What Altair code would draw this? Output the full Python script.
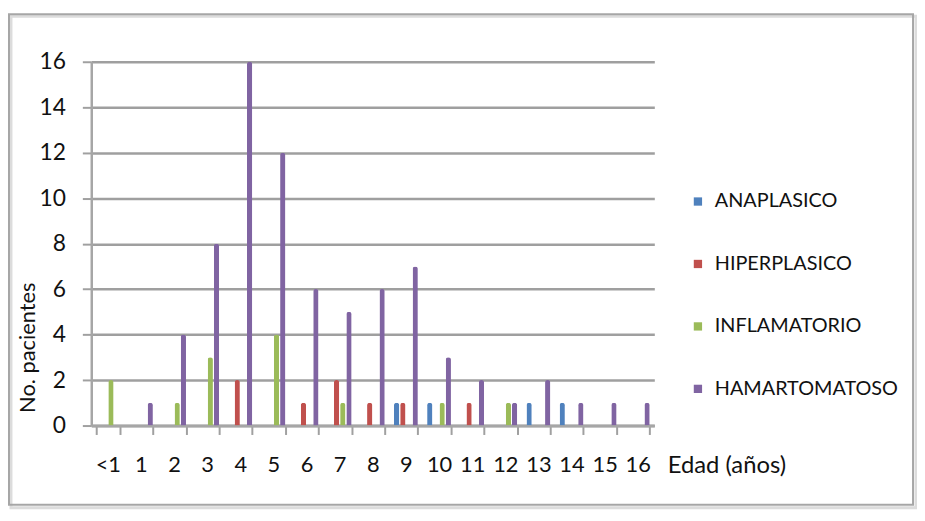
import altair as alt
import pandas as pd

categories = ["<1", "1", "2", "3", "4", "5", "6", "7", "8", "9", "10", "11", "12", "13", "14", "15", "16"]
series = ["ANAPLASICO", "HIPERPLASICO", "INFLAMATORIO", "HAMARTOMATOSO"]
colors = ["#4F81BD", "#C0504D", "#9BBB59", "#8064A2"]
anaplasico = [0, 0, 0, 0, 0, 0, 0, 0, 0, 1, 1, 0, 0, 1, 1, 0, 0]
hiperplasico = [0, 0, 0, 0, 2, 0, 1, 2, 1, 1, 0, 1, 0, 0, 0, 0, 0]
inflamatorio = [2, 0, 1, 3, 0, 4, 0, 1, 0, 0, 1, 0, 1, 0, 0, 0, 0]
hamartomatoso = [0, 1, 4, 8, 16, 12, 6, 5, 6, 7, 3, 2, 1, 2, 1, 1, 1]

rows = []
for name, vals in zip(series, [anaplasico, hiperplasico, inflamatorio, hamartomatoso]):
    for c, v in zip(categories, vals):
        if v > 0:
            rows.append({"edad": c, "tipo": name, "n": v})
df = pd.DataFrame(rows)

FONT = "Lato"
TXT = "#111111"
W, H = 568, 367

bars = alt.Chart(df).mark_bar(
    cornerRadiusTopLeft=2.5, cornerRadiusTopRight=2.5
).encode(
    x=alt.X("edad:N", sort=categories,
            scale=alt.Scale(domain=categories, paddingInner=0.28, paddingOuter=0.14),
            axis=alt.Axis(title="Edad (años)", labelAngle=0, labelFontSize=22,
                          labelFont=FONT, labelColor=TXT, labelPadding=20,
                          tickBand="extent", tickSize=9, tickColor="#a0a0a0", tickWidth=2,
                          domainColor="#a6a6a6", domainWidth=3, grid=False,
                          titleFont=FONT, titleFontSize=24, titleFontWeight="normal",
                          titleColor=TXT, titleX=581, titleY=40, titleAlign="left",
                          titleBaseline="middle")),
    xOffset=alt.XOffset("tipo:N", sort=series,
                        scale=alt.Scale(domain=series, paddingInner=0.15)),
    y=alt.Y("n:Q", scale=alt.Scale(domain=[0, 16], nice=False),
            axis=alt.Axis(title="No. pacientes", values=list(range(0, 17, 2)),
                          labelFontSize=23, labelFont=FONT, labelColor=TXT,
                          labelPadding=17, tickSize=9, tickColor="#a0a0a0", tickWidth=2,
                          domainColor="#a6a6a6", domainWidth=2.5,
                          gridColor="#9f9f9f", gridWidth=2.5,
                          titleFont=FONT, titleFontSize=22, titleFontWeight="normal",
                          titleColor=TXT, titleX=-64, titleY=288, titleAngle=-90,
                          titleAlign="center", titleBaseline="middle")),
    color=alt.Color("tipo:N", sort=series,
                    scale=alt.Scale(domain=series, range=colors),
                    legend=alt.Legend(title=None, orient="none", legendX=602, legendY=131,
                                      symbolType="square", symbolSize=70,
                                      symbolStrokeWidth=0, labelFont=FONT,
                                      labelFontSize=20, labelColor=TXT, labelLimit=0,
                                      labelOffset=7, rowPadding=43, padding=0)),
)

shadow = alt.Chart(pd.DataFrame({"k": [0]})).mark_rect(
    fill=None, stroke="#dcdcdc", strokeWidth=3
).encode(
    x=alt.value(-81), x2=alt.value(832), y=alt.value(-46), y2=alt.value(450)
)

frame = alt.Chart(pd.DataFrame({"k": [0]})).mark_rect(
    fill=None, stroke="#a6a6a6", strokeWidth=2
).encode(
    x=alt.value(-83), x2=alt.value(829), y=alt.value(-48), y2=alt.value(447)
)

chart = alt.layer(shadow, frame, bars).properties(
    width=W, height=H,
    padding={"left": 84, "top": 52, "right": 265, "bottom": 86},
    autosize=alt.AutoSizeParams(type="none"),
    background="white",
).configure_view(stroke=None)

chart.save("out.html", embed_options={"renderer": "svg", "actions": False})
